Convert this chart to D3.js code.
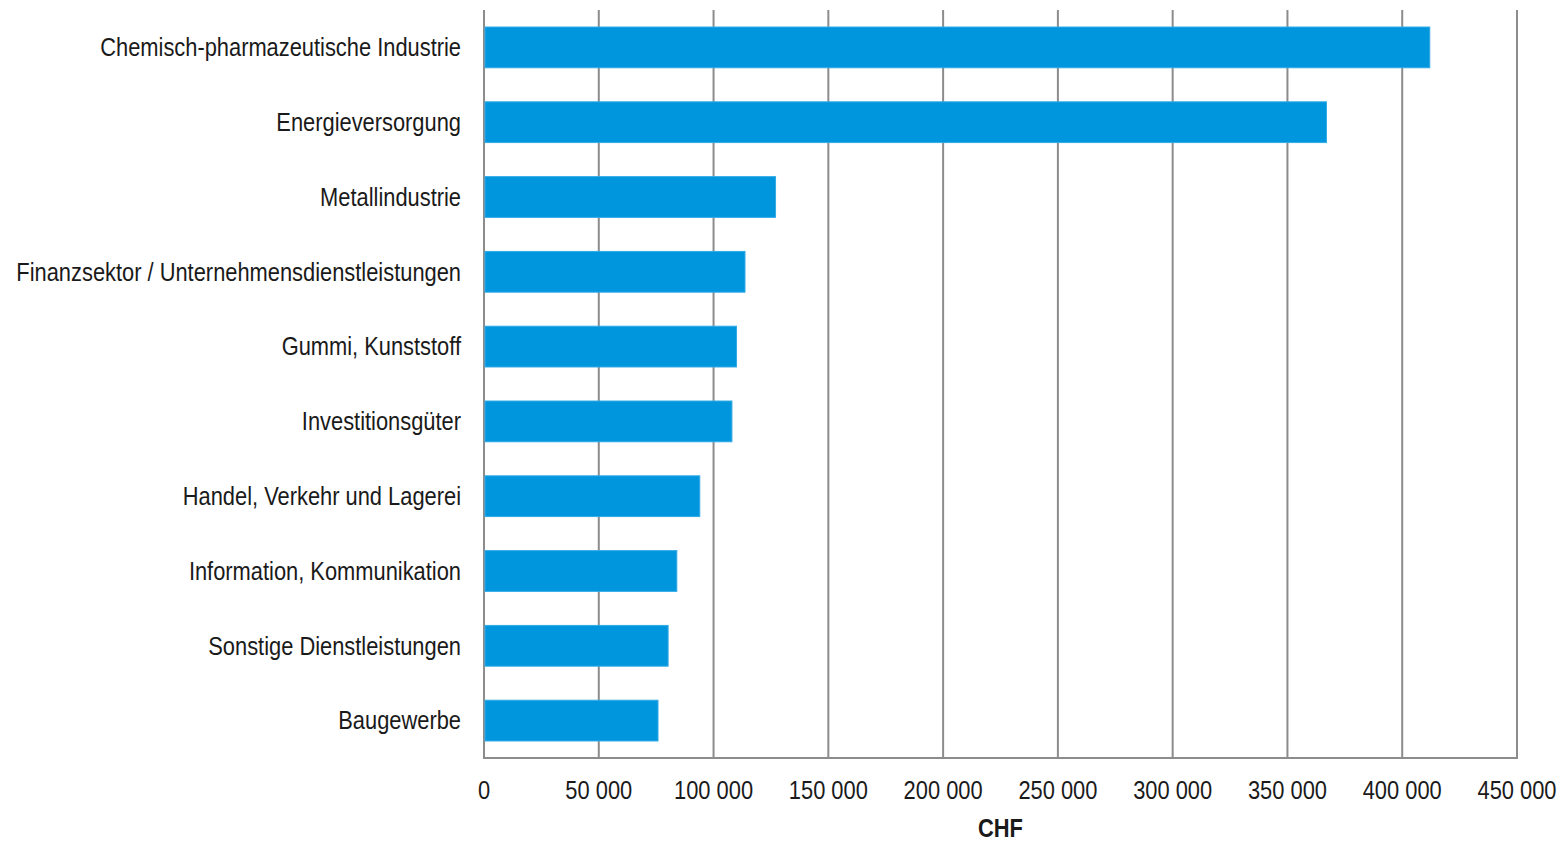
<!DOCTYPE html>
<html>
<head>
<meta charset="utf-8">
<script src="https://cdn.jsdelivr.net/npm/d3@7"></script>
<style>
body { margin: 0; background: #fff; }
text { font-family: "Liberation Sans Narrow", "Liberation Sans", Arial, sans-serif; fill: #1a1a1a; }
</style>
</head>
<body>
<svg width="1565" height="841"></svg>
<script>
var categories = ['Chemisch-pharmazeutische Industrie', 'Energieversorgung', 'Metallindustrie',
  'Finanzsektor / Unternehmensdienstleistungen', 'Gummi, Kunststoff', 'Investitionsgüter',
  'Handel, Verkehr und Lagerei', 'Information, Kommunikation', 'Sonstige Dienstleistungen', 'Baugewerbe'];
var values = [412000, 367000, 127000, 113700, 110000, 108000, 94000, 84000, 80200, 75800];
var ticks = [0, 50000, 100000, 150000, 200000, 250000, 300000, 350000, 400000, 450000];

var svg = d3.select('svg');
var mLeft = 484, mRight = 1517, mTop = 10, mBottom = 758;
var sx = 0.875; // narrow the font horizontally

var x = d3.scaleLinear().domain([0, 450000]).range([mLeft, mRight]);
var y = d3.scaleBand().domain(categories).range([mTop, mBottom]).paddingInner(0.455).paddingOuter(0.2275);

// gridlines
svg.append('g').selectAll('line').data(ticks).enter().append('line')
  .attr('x1', function(d){ return x(d); }).attr('x2', function(d){ return x(d); })
  .attr('y1', mTop).attr('y2', mBottom)
  .attr('stroke', '#8c8c8c').attr('stroke-width', 2);
svg.append('line').attr('x1', mLeft - 1).attr('x2', mRight + 1).attr('y1', mBottom).attr('y2', mBottom)
  .attr('stroke', '#8c8c8c').attr('stroke-width', 2);

// bars
svg.append('g').selectAll('rect').data(values).enter().append('rect')
  .attr('x', x(0) + 1)
  .attr('y', function(d, i){ return y(categories[i]); })
  .attr('width', function(d){ return x(d) - x(0) - 1; })
  .attr('height', y.bandwidth())
  .attr('fill', '#0096de').attr('stroke', '#33aae6').attr('stroke-width', 1);

// category labels
svg.append('g').selectAll('text').data(categories).enter().append('text')
  .attr('transform', function(d){ return 'translate(461,' + (y(d) + y.bandwidth() / 2) + ') scale(' + sx + ',1)'; })
  .attr('dy', '0.35em').attr('text-anchor', 'end').style('font-size', '25px')
  .text(function(d){ return d; });

// x tick labels
var fmt = function(d){ return d3.format(',')(d).replace(/,/g, ' '); };
svg.append('g').selectAll('text').data(ticks).enter().append('text')
  .attr('transform', function(d){ return 'translate(' + x(d) + ',790) scale(' + sx + ',1)'; })
  .attr('dy', '0.35em')
  .attr('text-anchor', 'middle').style('font-size', '25px')
  .text(fmt);

svg.append('text').attr('transform', 'translate(' + (mLeft + mRight) / 2 + ',828) scale(' + sx + ',1)').attr('dy', '0.35em')
  .attr('text-anchor', 'middle').style('font-size', '25px').style('font-weight', 'bold')
  .text('CHF');
</script>
</body>
</html>
